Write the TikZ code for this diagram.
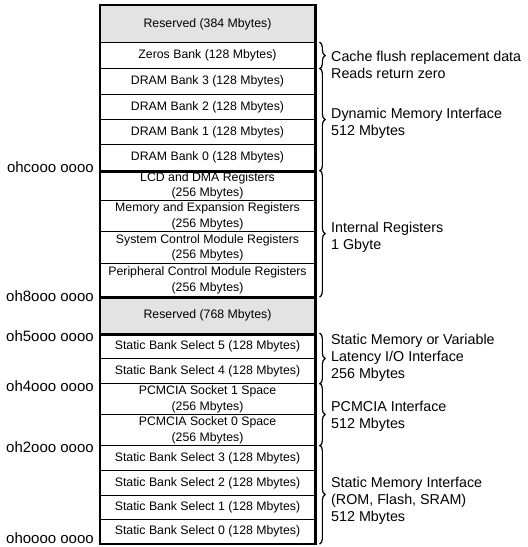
\documentclass[tikz,border=0pt]{standalone}
\usepackage{fontspec}
\setmainfont{Liberation Sans}
\usetikzlibrary{decorations.pathreplacing}
\begin{document}
\begin{tikzpicture}[x=1pt,y=-1pt,
  cell/.style={draw, line width=1.2pt, minimum width=215pt, inner sep=0pt,
    align=center, anchor=north, font=\fontsize{12.3}{15.5}\selectfont},
  resv/.style={cell, fill=gray!22},
  outer/.style={line width=1.8pt},
  divider/.style={line width=3.2pt},
  brc/.style={decorate, decoration={brace, amplitude=5.5pt}, line width=1.2pt},
  grp/.style={anchor=north west, align=left, inner sep=0pt, font=\fontsize{14.3}{17}\selectfont},
  addr/.style={anchor=base east, inner sep=0pt, font=\fontsize{15}{17}\selectfont}]
\useasboundingbox (0,0) rectangle (528,547);
% memory map rows
\node[resv, minimum height=37pt] (r384) at (207.5,5) {Reserved (384 Mbytes)};
\node[cell, minimum height=26pt] (zeros) at (207.5,42) {Zeros Bank (128 Mbytes)};
\node[cell, minimum height=26pt] (d3) at (207.5,68) {DRAM Bank 3 (128 Mbytes)};
\node[cell, minimum height=25pt] (d2) at (207.5,94) {DRAM Bank 2 (128 Mbytes)};
\node[cell, minimum height=25pt] (d1) at (207.5,119) {DRAM Bank 1 (128 Mbytes)};
\node[cell, minimum height=26pt] (d0) at (207.5,144) {DRAM Bank 0 (128 Mbytes)};
\node[cell, minimum height=30pt] (lcd) at (207.5,170) {LCD and DMA Registers\\(256 Mbytes)};
\node[cell, minimum height=31pt] (mem) at (207.5,200) {Memory and Expansion Registers\\(256 Mbytes)};
\node[cell, minimum height=32pt] (sys) at (207.5,231) {System Control Module Registers\\(256 Mbytes)};
\node[cell, minimum height=33pt] (per) at (207.5,263) {Peripheral Control Module Registers\\(256 Mbytes)};
\node[resv, minimum height=37pt] (r768) at (207.5,296) {Reserved (768 Mbytes)};
\node[cell, minimum height=25pt] (s5) at (207.5,333) {Static Bank Select 5 (128 Mbytes)};
\node[cell, minimum height=25pt] (s4) at (207.5,358) {Static Bank Select 4 (128 Mbytes)};
\node[cell, minimum height=31pt] (p1) at (207.5,383) {PCMCIA Socket 1 Space\\(256 Mbytes)};
\node[cell, minimum height=31pt] (p0) at (207.5,414) {PCMCIA Socket 0 Space\\(256 Mbytes)};
\node[cell, minimum height=25pt] (s3) at (207.5,445) {Static Bank Select 3 (128 Mbytes)};
\node[cell, minimum height=25pt] (s2) at (207.5,470) {Static Bank Select 2 (128 Mbytes)};
\node[cell, minimum height=24pt] (s1) at (207.5,495) {Static Bank Select 1 (128 Mbytes)};
\node[cell, minimum height=24pt] (s0) at (207.5,519) {Static Bank Select 0 (128 Mbytes)};
% outer frame and thick dividers
\draw[outer] (r384.north west) rectangle (s0.south east);
\draw[divider] (d0.south west) -- (d0.south east);
\draw[divider] (per.south west) -- (per.south east);
\draw[divider] (r768.south west) -- (r768.south east);
% addresses
\node[addr] (a1) at (94,172) {ohcooo oooo};
\node[addr] (a2) at (94,301) {oh8ooo oooo};
\node[addr] (a3) at (94,341) {oh5ooo oooo};
\node[addr] (a4) at (94,391) {oh4ooo oooo};
\node[addr] (a5) at (94,452) {oh2ooo oooo};
\node[addr] (a6) at (94,543.5) {ohoooo oooo};
% braces
\draw[brc] ([xshift=4pt]zeros.north east) -- ([xshift=4pt]zeros.south east);
\draw[brc] ([xshift=4pt]d3.north east) -- ([xshift=4pt]d0.south east);
\draw[brc] ([xshift=4pt]lcd.north east) -- ([xshift=4pt]per.south east);
\draw[brc] ([xshift=4pt]s5.north east) -- ([xshift=4pt]s4.south east);
\draw[brc] ([xshift=4pt]p1.north east) -- ([xshift=4pt]p0.south east);
\draw[brc] ([xshift=4pt]s3.north east) -- ([xshift=4pt]s0.south east);
% group labels
\node[grp] (g1) at (331,51) {Cache flush replacement data\\Reads return zero};
\node[grp] (g2) at (331,108) {Dynamic Memory Interface\\512 Mbytes};
\node[grp] (g3) at (331,222) {Internal Registers\\1 Gbyte};
\node[grp] (g4) at (331,334) {Static Memory or Variable\\Latency I/O Interface\\256 Mbytes};
\node[grp] (g5) at (331,401) {PCMCIA Interface\\512 Mbytes};
\node[grp] (g6) at (331,477) {Static Memory Interface\\(ROM, Flash, SRAM)\\512 Mbytes};
\end{tikzpicture}
\end{document}
